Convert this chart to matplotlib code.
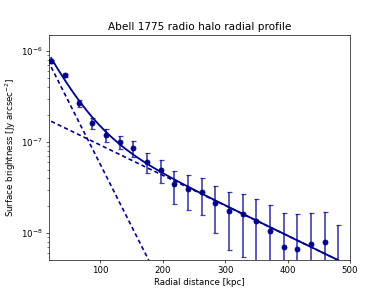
import numpy as np
import matplotlib
matplotlib.use("Agg")
import matplotlib.pyplot as plt

# radial bins [kpc]
r = np.array([21.1, 42.9, 65.3, 87.2, 109.1, 130.9, 152.8, 174.7, 196.6, 218.5,
              240.4, 262.3, 284.2, 306.1, 328.0, 349.9, 371.8, 393.7, 415.6,
              437.5, 459.4, 481.3])

# surface brightness [Jy arcsec^-2]
sb = np.array([7.76e-7, 5.41e-7, 2.68e-7, 1.63e-7, 1.19e-7, 1.0e-7, 8.6e-8,
               6.03e-8, 4.97e-8, 3.43e-8, 3.08e-8, 2.82e-8, 2.16e-8, 1.75e-8,
               1.63e-8, 1.35e-8, 1.07e-8, 7.0e-9, 6.8e-9, 7.65e-9, 8.0e-9,
               3.6e-9])

sb_err = np.array([3.0e-8, 2.5e-8, 2.4e-8, 2.3e-8, 1.9e-8, 1.65e-8, 1.65e-8,
                   1.5e-8, 1.42e-8, 1.35e-8, 1.3e-8, 1.22e-8, 1.15e-8, 1.1e-8,
                   1.08e-8, 1.0e-8, 0.99e-8, 9.7e-9, 9.5e-9, 9.0e-9, 9.0e-9,
                   8.8e-9])

# two exponential components of the fit
I0_core, re_core = 1.29e-6, 32.0
I0_halo, re_halo = 1.99e-7, 131.0

rr = np.linspace(r[0], r[-1], 300)
core = I0_core * np.exp(-rr / re_core)
halo = I0_halo * np.exp(-rr / re_halo)

fig = plt.figure(figsize=(389 / 60, 292 / 60), dpi=60)
ax = fig.add_subplot(111)

ax.errorbar(r, sb, yerr=sb_err, fmt='none', ecolor='darkblue', alpha=0.75,
            capsize=3, elinewidth=2, capthick=1.5)
ax.plot(r, sb, 'o', color='darkblue', markersize=6)
ax.plot(rr, core + halo, '-', color='darkblue', lw=2.2)
ax.plot(rr, core, '--', color='darkblue', lw=2, dashes=(2.5, 1.8))
ax.plot(rr, halo, '--', color='darkblue', lw=2, dashes=(2.5, 1.8))

ax.set_yscale('log')
ax.set_xlim(17, 500)
ax.set_ylim(5.1e-9, 1.5e-6)
ax.set_xlabel('Radial distance [kpc]', fontsize=10.4)
ax.set_ylabel(r'Surface brightness [Jy arcsec$^{-2}$]', fontsize=10.4)
ax.set_title('Abell 1775 radio halo radial profile', fontsize=12.6)
ax.tick_params(labelsize=10.4)

fig.savefig('out.png', dpi=60)
